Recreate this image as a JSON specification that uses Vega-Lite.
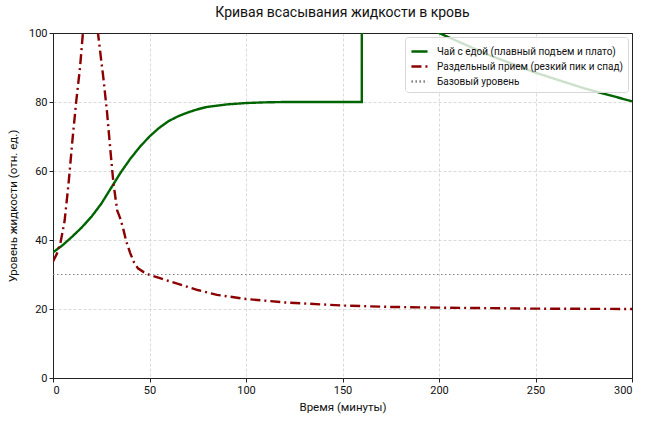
{
  "$schema": "https://vega.github.io/schema/vega-lite/v6.json",
  "autosize": "none",
  "width": 579,
  "height": 345,
  "padding": {"left": 53, "top": 33, "right": 19, "bottom": 44},
  "background": "white",
  "title": {
    "text": "Кривая всасывания жидкости в кровь",
    "fontSize": 14,
    "fontWeight": "normal",
    "color": "#111",
    "offset": 7,
    "anchor": "middle"
  },
  "datasets": {
    "curves": [
      {"series": "Чай с едой (плавный подъем и плато)", "k": 1, "t": 0, "v": 36.4},
      {"series": "Чай с едой (плавный подъем и плато)", "k": 2, "t": 5, "v": 38.5},
      {"series": "Чай с едой (плавный подъем и плато)", "k": 3, "t": 10, "v": 41},
      {"series": "Чай с едой (плавный подъем и плато)", "k": 4, "t": 15, "v": 43.7},
      {"series": "Чай с едой (плавный подъем и плато)", "k": 5, "t": 20, "v": 46.8},
      {"series": "Чай с едой (плавный подъем и плато)", "k": 6, "t": 25, "v": 50.5},
      {"series": "Чай с едой (плавный подъем и плато)", "k": 7, "t": 30, "v": 55},
      {"series": "Чай с едой (плавный подъем и плато)", "k": 8, "t": 35, "v": 59.5},
      {"series": "Чай с едой (плавный подъем и плато)", "k": 9, "t": 40, "v": 63.5},
      {"series": "Чай с едой (плавный подъем и плато)", "k": 10, "t": 45, "v": 67},
      {"series": "Чай с едой (плавный подъем и плато)", "k": 11, "t": 50, "v": 70},
      {"series": "Чай с едой (плавный подъем и плато)", "k": 12, "t": 55, "v": 72.5},
      {"series": "Чай с едой (плавный подъем и плато)", "k": 13, "t": 60, "v": 74.5},
      {"series": "Чай с едой (плавный подъем и плато)", "k": 14, "t": 65, "v": 75.9},
      {"series": "Чай с едой (плавный подъем и плато)", "k": 15, "t": 70, "v": 77},
      {"series": "Чай с едой (плавный подъем и плато)", "k": 16, "t": 75, "v": 77.9},
      {"series": "Чай с едой (плавный подъем и плато)", "k": 17, "t": 80, "v": 78.6},
      {"series": "Чай с едой (плавный подъем и плато)", "k": 18, "t": 90, "v": 79.3},
      {"series": "Чай с едой (плавный подъем и плато)", "k": 19, "t": 100, "v": 79.7},
      {"series": "Чай с едой (плавный подъем и плато)", "k": 20, "t": 110, "v": 79.9},
      {"series": "Чай с едой (плавный подъем и плато)", "k": 21, "t": 120, "v": 80},
      {"series": "Чай с едой (плавный подъем и плато)", "k": 22, "t": 140, "v": 80},
      {"series": "Чай с едой (плавный подъем и плато)", "k": 23, "t": 160, "v": 80},
      {"series": "Чай с едой (плавный подъем и плато)", "k": 24, "t": 160, "v": 112},
      {"series": "Чай с едой (плавный подъем и плато)", "k": 25, "t": 180, "v": 105.5},
      {"series": "Чай с едой (плавный подъем и плато)", "k": 26, "t": 200, "v": 100},
      {"series": "Чай с едой (плавный подъем и плато)", "k": 27, "t": 225, "v": 93.8},
      {"series": "Чай с едой (плавный подъем и плато)", "k": 28, "t": 250, "v": 88.5},
      {"series": "Чай с едой (плавный подъем и плато)", "k": 29, "t": 275, "v": 84},
      {"series": "Чай с едой (плавный подъем и плато)", "k": 30, "t": 300, "v": 80.2},
      {"series": "Раздельный прием (резкий пик и спад)", "k": 1, "t": 0, "v": 33.8},
      {"series": "Раздельный прием (резкий пик и спад)", "k": 2, "t": 2, "v": 36},
      {"series": "Раздельный прием (резкий пик и спад)", "k": 3, "t": 4, "v": 39.5},
      {"series": "Раздельный прием (резкий пик и спад)", "k": 4, "t": 6, "v": 45.5},
      {"series": "Раздельный прием (резкий пик и спад)", "k": 5, "t": 8, "v": 56},
      {"series": "Раздельный прием (резкий пик и спад)", "k": 6, "t": 10, "v": 68.5},
      {"series": "Раздельный прием (резкий пик и спад)", "k": 7, "t": 12, "v": 80},
      {"series": "Раздельный прием (резкий пик и спад)", "k": 8, "t": 14, "v": 90},
      {"series": "Раздельный прием (резкий пик и спад)", "k": 9, "t": 15.5, "v": 100},
      {"series": "Раздельный прием (резкий пик и спад)", "k": 10, "t": 17, "v": 107},
      {"series": "Раздельный прием (резкий пик и спад)", "k": 11, "t": 19.5, "v": 110},
      {"series": "Раздельный прием (резкий пик и спад)", "k": 12, "t": 22, "v": 105},
      {"series": "Раздельный прием (резкий пик и спад)", "k": 13, "t": 23.3, "v": 100},
      {"series": "Раздельный прием (резкий пик и спад)", "k": 14, "t": 25, "v": 92},
      {"series": "Раздельный прием (резкий пик и спад)", "k": 15, "t": 26.2, "v": 86.5},
      {"series": "Раздельный прием (резкий пик и спад)", "k": 16, "t": 28, "v": 77},
      {"series": "Раздельный прием (резкий пик и спад)", "k": 17, "t": 29.5, "v": 67.5},
      {"series": "Раздельный прием (резкий пик и спад)", "k": 18, "t": 31.3, "v": 56.5},
      {"series": "Раздельный прием (резкий пик и спад)", "k": 19, "t": 33.3, "v": 48.5},
      {"series": "Раздельный прием (резкий пик и спад)", "k": 20, "t": 34, "v": 47.5},
      {"series": "Раздельный прием (резкий пик и спад)", "k": 21, "t": 35, "v": 46},
      {"series": "Раздельный прием (резкий пик и спад)", "k": 22, "t": 36.5, "v": 43},
      {"series": "Раздельный прием (резкий пик и спад)", "k": 23, "t": 38, "v": 39.5},
      {"series": "Раздельный прием (резкий пик и спад)", "k": 24, "t": 40, "v": 36.2},
      {"series": "Раздельный прием (резкий пик и спад)", "k": 25, "t": 42, "v": 33.5},
      {"series": "Раздельный прием (резкий пик и спад)", "k": 26, "t": 44, "v": 31.8},
      {"series": "Раздельный прием (резкий пик и спад)", "k": 27, "t": 47, "v": 30.7},
      {"series": "Раздельный прием (резкий пик и спад)", "k": 28, "t": 50, "v": 29.9},
      {"series": "Раздельный прием (резкий пик и спад)", "k": 29, "t": 55, "v": 29},
      {"series": "Раздельный прием (резкий пик и спад)", "k": 30, "t": 60, "v": 28.1},
      {"series": "Раздельный прием (резкий пик и спад)", "k": 31, "t": 67.5, "v": 26.8},
      {"series": "Раздельный прием (резкий пик и спад)", "k": 32, "t": 75, "v": 25.5},
      {"series": "Раздельный прием (резкий пик и спад)", "k": 33, "t": 85, "v": 24.1},
      {"series": "Раздельный прием (резкий пик и спад)", "k": 34, "t": 100, "v": 22.9},
      {"series": "Раздельный прием (резкий пик и спад)", "k": 35, "t": 120, "v": 21.9},
      {"series": "Раздельный прием (резкий пик и спад)", "k": 36, "t": 150, "v": 21},
      {"series": "Раздельный прием (резкий пик и спад)", "k": 37, "t": 175, "v": 20.6},
      {"series": "Раздельный прием (резкий пик и спад)", "k": 38, "t": 200, "v": 20.4},
      {"series": "Раздельный прием (резкий пик и спад)", "k": 39, "t": 250, "v": 20.1},
      {"series": "Раздельный прием (резкий пик и спад)", "k": 40, "t": 300, "v": 20}
    ],
    "baseline": [
      {"series": "Базовый уровень", "k": 1, "t": 0, "v": 30},
      {"series": "Базовый уровень", "k": 2, "t": 300, "v": 30}
    ]
  },
  "encoding": {
    "x": {
      "field": "t",
      "type": "quantitative",
      "title": "Время (минуты)",
      "scale": {"domain": [0, 300], "nice": false, "zero": false},
      "axis": {
        "values": [0, 50, 100, 150, 200, 250, 300],
        "titlePadding": 6,
        "gridColor": {"condition": {"test": "datum.value === 300", "value": "#222"}, "value": "#d0d0d0"},
        "gridDash": {"condition": {"test": "datum.value === 300", "value": []}, "value": [3, 2]}
      }
    },
    "y": {
      "field": "v",
      "type": "quantitative",
      "title": "Уровень жидкости (отн. ед.)",
      "scale": {"domain": [0, 100], "nice": false},
      "axis": {
        "values": [0, 20, 40, 60, 80, 100],
        "titlePadding": 10,
        "gridColor": {"condition": {"test": "datum.value === 100", "value": "#222"}, "value": "#d0d0d0"},
        "gridDash": {"condition": {"test": "datum.value === 100", "value": []}, "value": [3, 2]}
      }
    },
    "order": {"field": "k", "type": "quantitative"},
    "color": {
      "field": "series",
      "type": "nominal",
      "title": null,
      "scale": {
        "domain": ["Чай с едой (плавный подъем и плато)", "Раздельный прием (резкий пик и спад)", "Базовый уровень"],
        "range": ["#006400", "#8b0000", "#808080"]
      },
      "legend": {
        "orient": "top-right",
        "offset": 4,
        "fillColor": "rgba(255,255,255,0.8)",
        "strokeColor": "#d8d8d8",
        "cornerRadius": 3,
        "padding": 5,
        "labelFontSize": 10,
        "labelColor": "#111",
        "labelLimit": 300,
        "labelOffset": 8,
        "symbolType": "stroke",
        "symbolSize": 260,
        "symbolStrokeWidth": 2.4,
        "rowPadding": 0
      }
    },
    "strokeDash": {
      "field": "series",
      "type": "nominal",
      "title": null,
      "scale": {
        "domain": ["Чай с едой (плавный подъем и плато)", "Раздельный прием (резкий пик и спад)", "Базовый уровень"],
        "range": [[1, 0], [10, 4, 2, 4], [1.5, 2.5]]
      }
    }
  },
  "layer": [
    {
      "data": {"name": "curves"},
      "mark": {"type": "line", "clip": true, "strokeWidth": 2.4, "strokeCap": "butt"}
    },
    {
      "data": {"name": "baseline"},
      "mark": {"type": "line", "clip": true, "strokeWidth": 1.1, "strokeCap": "butt"}
    }
  ],
  "config": {
    "font": "Roboto",
    "view": {"stroke": "#222", "strokeWidth": 1},
    "axis": {
      "grid": true,
      "gridWidth": 0.8,
      "domainColor": "#222",
      "tickColor": "#222",
      "tickSize": 4,
      "labelFontSize": 11,
      "labelColor": "#111",
      "titleFontSize": 11.5,
      "titleFontWeight": "normal",
      "titleColor": "#111"
    }
  }
}
